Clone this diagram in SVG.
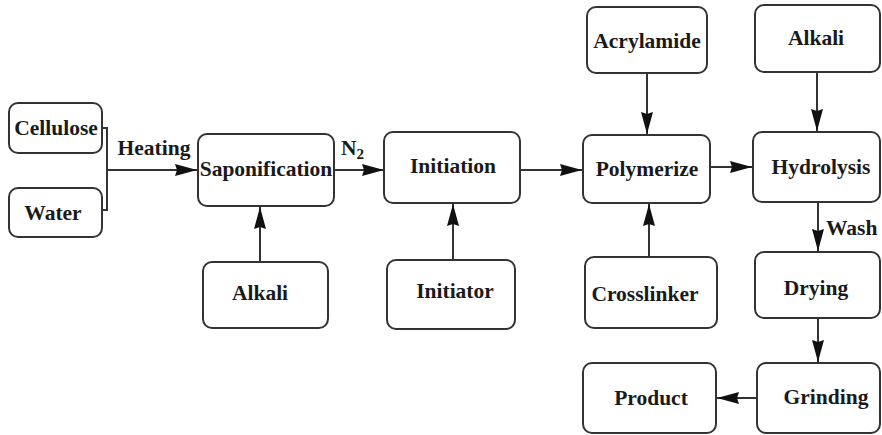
<svg xmlns="http://www.w3.org/2000/svg" width="882" height="435" viewBox="0 0 882 435">
<style>
  .box { fill: #ffffff; stroke: #333333; stroke-width: 2; }
  .lbl { font-family: "Liberation Serif", "Times New Roman", serif; font-weight: 700; font-size: 21.5px; fill: #1a1a1a; text-anchor: middle; }
  .edge { fill: none; stroke: #333333; stroke-width: 2; }
  .elbl { font-family: "Liberation Serif", "Times New Roman", serif; font-weight: 700; font-size: 21.5px; fill: #1a1a1a; }
</style>
<defs>
  <marker id="arrow" markerUnits="userSpaceOnUse" markerWidth="23" markerHeight="12" refX="22" refY="6" orient="auto">
    <path d="M0,0 L22,6 L0,12 L2,6 z" fill="#111111"/>
  </marker>
</defs>
<rect width="882" height="435" fill="#ffffff"/>
<g id="connectors">
  <path class="edge" d="M102,128 H107 V210 H102"/>
  <path class="edge" d="M107,170 H197" marker-end="url(#arrow)"/>
  <path class="edge" d="M334,170 H384" marker-end="url(#arrow)"/>
  <path class="edge" d="M260,262 V207" marker-end="url(#arrow)"/>
  <path class="edge" d="M453,260 V204" marker-end="url(#arrow)"/>
  <path class="edge" d="M520,170 H582" marker-end="url(#arrow)"/>
  <path class="edge" d="M647,73 V134" marker-end="url(#arrow)"/>
  <path class="edge" d="M649,257 V204" marker-end="url(#arrow)"/>
  <path class="edge" d="M710,167 H752" marker-end="url(#arrow)"/>
  <path class="edge" d="M817,72 V131" marker-end="url(#arrow)"/>
  <path class="edge" d="M818,202 V251" marker-end="url(#arrow)"/>
  <path class="edge" d="M818,318 V362" marker-end="url(#arrow)"/>
  <path class="edge" d="M757,398 H717" marker-end="url(#arrow)"/>
  <text class="elbl" x="154" y="155" text-anchor="middle">Heating</text>
  <text class="elbl" x="341" y="155">N<tspan font-size="15" dy="4">2</tspan></text>
  <text class="elbl" x="826" y="235">Wash</text>
</g>
<g id="cellulose"><rect class="box" x="9" y="103" width="93" height="50" rx="9"/><text class="lbl" x="56" y="135">Cellulose</text></g>
<g id="water"><rect class="box" x="9" y="188" width="93" height="49" rx="9"/><text class="lbl" x="53" y="220">Water</text></g>
<g id="saponification"><rect class="box" x="198" y="134" width="136" height="72" rx="9"/><text class="lbl" x="266" y="176">Saponification</text></g>
<g id="alkali1"><rect class="box" x="203" y="262" width="125" height="66" rx="9"/><text class="lbl" x="260" y="300">Alkali</text></g>
<g id="initiation"><rect class="box" x="384" y="132" width="136" height="71" rx="9"/><text class="lbl" x="453" y="173">Initiation</text></g>
<g id="initiator"><rect class="box" x="387" y="260" width="128" height="69" rx="9"/><text class="lbl" x="455" y="298">Initiator</text></g>
<g id="polymerize"><rect class="box" x="583" y="135" width="127" height="68" rx="9"/><text class="lbl" x="647" y="176">Polymerize</text></g>
<g id="acrylamide"><rect class="box" x="587" y="7" width="120" height="66" rx="9"/><text class="lbl" x="647" y="48">Acrylamide</text></g>
<g id="crosslinker"><rect class="box" x="585" y="257" width="132" height="71" rx="9"/><text class="lbl" x="645" y="301">Crosslinker</text></g>
<g id="alkali2"><rect class="box" x="755" y="5" width="125" height="67" rx="9"/><text class="lbl" x="816" y="45">Alkali</text></g>
<g id="hydrolysis"><rect class="box" x="753" y="132" width="127" height="70" rx="9"/><text class="lbl" x="821" y="174">Hydrolysis</text></g>
<g id="drying"><rect class="box" x="755" y="252" width="125" height="66" rx="9"/><text class="lbl" x="816" y="295">Drying</text></g>
<g id="grinding"><rect class="box" x="757" y="363" width="123" height="70" rx="9"/><text class="lbl" x="826" y="404">Grinding</text></g>
<g id="product"><rect class="box" x="583" y="363" width="133" height="70" rx="9"/><text class="lbl" x="651" y="405">Product</text></g>
</svg>
